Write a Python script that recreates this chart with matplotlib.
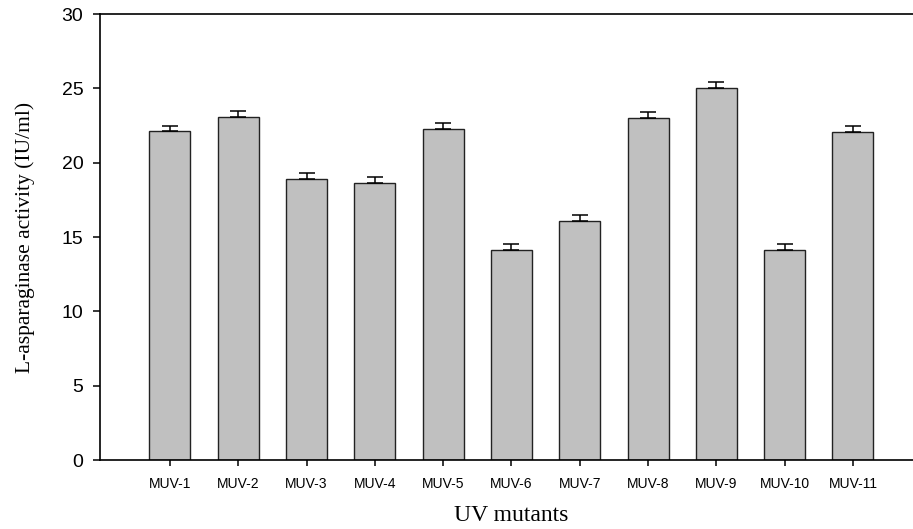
import numpy as np
import matplotlib
matplotlib.use("Agg")
from matplotlib import pyplot as plt

mutants = ["MUV-1", "MUV-2", "MUV-3", "MUV-4", "MUV-5", "MUV-6",
           "MUV-7", "MUV-8", "MUV-9", "MUV-10", "MUV-11"]
activity = [22.1, 23.05, 18.9, 18.6, 22.25, 14.1, 16.05, 23.0, 25.0, 14.1, 22.05]
error = [0.4, 0.42, 0.42, 0.42, 0.4, 0.42, 0.42, 0.4, 0.42, 0.42, 0.4]
yticks = [0, 5, 10, 15, 20, 25, 30]


def draw_chart():
    fig = plt.figure(figsize=(9.13, 5.29), dpi=100)
    ax = fig.add_axes([0.1095, 0.1304, 0.9014, 0.8431])

    x = np.arange(len(mutants))
    ax.bar(x, activity, width=0.6, color="#c0c0c0",
           edgecolor="#222222", linewidth=1.0, zorder=2)
    ax.errorbar(x, activity, yerr=[np.zeros(len(error)), error], fmt="none",
                ecolor="black", elinewidth=1.1, capsize=6, capthick=1.1, zorder=3)

    ax.set_xlim(-1.025, 11.025)
    ax.set_ylim(0, 30)
    ax.set_xticks(x)
    ax.set_xticklabels(mutants, fontsize=10, family="Liberation Sans")
    ax.set_yticks(yticks)
    ax.set_yticklabels([str(v) for v in yticks], fontsize=14, family="Liberation Sans")

    ax.tick_params(axis="y", direction="out", length=5, width=1.1, pad=7)
    ax.tick_params(axis="x", direction="out", length=4, width=1.1, pad=8)
    for side in ["left", "bottom", "top", "right"]:
        ax.spines[side].set_linewidth(1.2)

    ax.set_ylabel("L-asparaginase activity (IU/ml)", fontsize=15.5,
                  family="Liberation Serif")
    ax.yaxis.set_label_coords(-0.079, 0.5)
    ax.set_xlabel("UV mutants", fontsize=17, family="Liberation Serif")
    ax.xaxis.set_label_coords(0.5, -0.10)

    fig.savefig("out.png", dpi=100)


if __name__ == "__main__":
    draw_chart()
